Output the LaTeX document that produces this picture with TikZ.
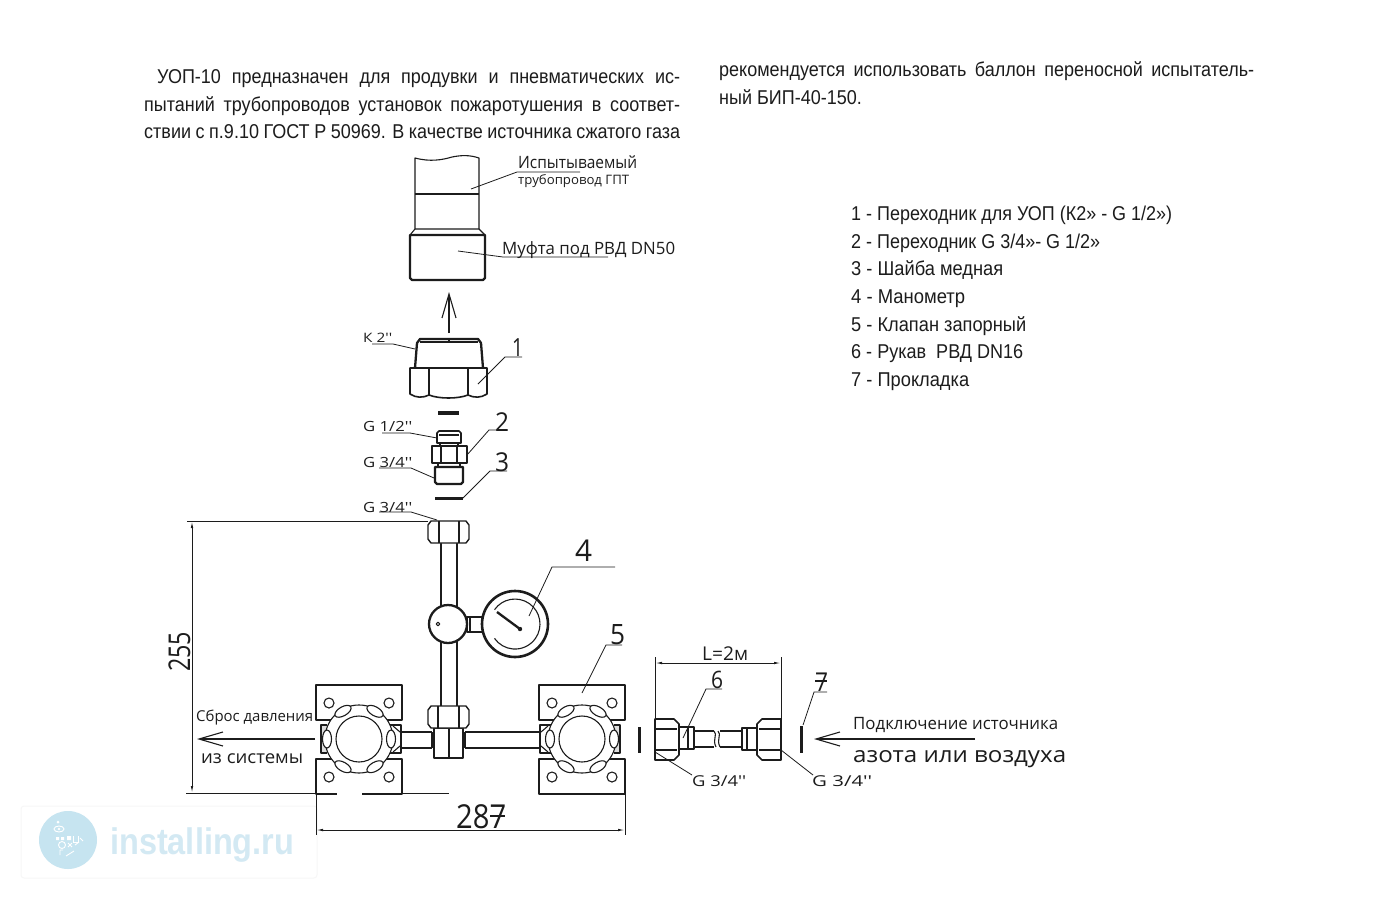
\documentclass[tikz,border=0pt]{standalone}
\usepackage{fontspec}
\usepackage{graphicx}
\usetikzlibrary{arrows.meta}
\setmainfont{Liberation Sans}
\newfontfamily\dfont{Open Sans}
\newfontfamily\bodyf[FakeStretch=0.90]{Liberation Sans}
\definecolor{ink}{HTML}{1C1C1C}
\definecolor{wmark}{HTML}{D3E9F3}
\definecolor{wcirc}{HTML}{C6E4F0}
\definecolor{wedge}{HTML}{F7F7F7}
\newcommand\dtxt[7][0]{\node[anchor=base west,inner sep=0pt,text=ink,rotate=#1] (#2) at (#3,#4) {\resizebox{#5pt}{\height}{\dfont\fontsize{#6}{#6}\selectfont #7}};}
\newcommand\btxt[4]{\node[anchor=base west,inner sep=0pt,text=ink] (#1) at (851,#2) {\resizebox{#3pt}{\height}{\fontsize{20}{20}\selectfont #4}};}
\newcommand\jtxt[5]{\node[anchor=base west,inner sep=0pt,text=ink] (#1) at (#2,#3) {\fontsize{20}{20}\bodyf\makebox[#4pt][s]{#5}};}
\newcommand\valve[2]{%
\begin{scope}[shift={(#1,739)},xscale=#2]
 \draw[thin line] (-43,-54) rectangle (43,-19);
 \draw[thin line] (-43,20) rectangle (43,55);
 \foreach \hx/\hy in {-30/-36,30/-36,-30/38,30/38} \draw[thin line] (\hx,\hy) circle (5);
 \draw[thick line,fill=ink!15] (32,-14) -- (38,-14) -- (38,14) -- (32,14);
 \draw[thin line] (-42,-14) rectangle (-30,14);
 \draw[thin line] (-41,-7) -- (-34,-13) (-41,7) -- (-34,13);
 \draw[thin line,fill=white] (0,0) circle (34);
 \draw[thin line] (0,0) circle (23);
 \foreach \a in {0,60,120,180,240,300}
   \draw[thin line,fill=white,rotate=\a] (32,0) ellipse (4.5 and 9);
\end{scope}}
\tikzset{
 thin line/.style={draw=ink,line width=1.1pt,line join=round},
 thick line/.style={draw=ink,line width=2.3pt,line join=round},
 lead/.style={draw=ink,line width=0.8pt},
 dimline/.style={draw=ink,line width=0.9pt},
 dimarrow/.style={draw=ink,line width=0.9pt,{Latex[length=7pt,width=2.5pt]}-{Latex[length=7pt,width=2.5pt]}},
 openarrow/.style={draw=ink,line width=1.1pt,-{Straight Barb[length=24pt,width=14pt,line width=1.1pt]}},
 bar/.style={draw=ink,line width=3pt},
}
\begin{document}
\begin{tikzpicture}[x=1pt,y=-1pt]
\useasboundingbox (0,0) rectangle (1400,900);
\fill[white] (0,0) rectangle (1400,900);
% watermark
\draw[wedge,fill=white,line width=1pt,rounded corners=3pt] (21,806) rectangle (317,878);
\fill[wcirc] (68,840) circle (29);
\begin{scope}[white,line width=0.9pt]
 \draw (59,829) ellipse (5 and 3);
 \fill (59,829) circle (1.3);
 \fill (58,822) circle (1.5);
 \draw (62,845) circle (3.5);
 \fill (56,837) rectangle (59,840) (61,837) rectangle (64,840) (67,836) rectangle (71,840);
 \draw (73,836) -- (73,842) arc[start angle=180,end angle=0,radius=0] -- (78,842) -- (78,836);
 \draw (68,843) -- (72,847) (72,843) -- (68,847) (75,845) -- (79,842) (80,838) -- (83,841);
 \draw (60,855) -- (60,850) -- (63,850) (74,851) -- (66,856);
\end{scope}
\node[anchor=base west,inner sep=0pt,text=wmark] (wm) at (110,854) {\resizebox{184pt}{\height}{\fontsize{37}{37}\selectfont\bfseries installing.ru}};
% body text
\jtxt{p1}{157}{83}{523}{УОП-10 предназначен для продувки и пневматических ис-}
\jtxt{p2}{144}{111}{536}{пытаний трубопроводов установок пожаротушения в соответ-}
\jtxt{p3}{144}{138}{536}{ствии с п.9.10 ГОСТ Р 50969. В качестве источника сжатого газа}
\jtxt{q1}{719}{76}{535}{рекомендуется использовать баллон переносной испытатель-}
\node[anchor=base west,inner sep=0pt,text=ink] (q2) at (719,104) {\fontsize{20}{20}\bodyf ный БИП-40-150.};
\btxt{l1}{220}{321}{1 - Переходник для УОП (К2» - G 1/2»)}
\btxt{l2}{248}{249}{2 - Переходник G 3/4»- G 1/2»}
\btxt{l3}{275}{152}{3 - Шайба медная}
\btxt{l4}{303}{114}{4 - Манометр}
\btxt{l5}{331}{175}{5 - Клапан запорный}
\btxt{l6}{358}{172}{6 - Рукав\ \ РВД DN16}
\btxt{l7}{386}{118}{7 - Прокладка}
% tested pipe
\draw[thin line] (415,229) -- (415,158) .. controls (430,162) and (442,160) .. (452,157) .. controls (462,155) and (470,155) .. (479,158) -- (479,229);
\draw[thick line] (415,194) -- (479,194);
\draw[thin line] (415,229) -- (479,229) (415,229) -- (410,235) (479,229) -- (485,235);
\draw[thick line] (410,235) -- (485,235) -- (485,278) -- (483,280) -- (412,280) -- (410,278) -- cycle;
\draw[lead] (471,189) -- (517,172) -- (580,172);
\draw[lead] (458,251) -- (503,257) -- (608,257);
\dtxt{pipe}{518}{168}{119}{17}{Испытываемый}
\dtxt{pipeb}{518}{184}{111}{13}{трубопровод ГПТ}
\dtxt{muff}{502}{254}{173}{17}{Муфта под РВД DN50}
% arrow up
\coordinate (upA) at (449,333);
\coordinate (upB) at (449,292);
\draw[openarrow] (upA) -- (upB);
% adapter 1
\draw[thick line] (415,368) -- (417,343) -- (420,339) -- (478,339) -- (481,343) -- (483,368);
\draw[thin line] (420,342) -- (478,342) (449,339) -- (449,342);
\draw[thick line,line width=1.6pt] (410,368) -- (487,368) -- (487,394) .. controls (481,398) and (474,398) .. (468,395) .. controls (458,399) and (439,399) .. (429,395) .. controls (423,398) and (416,398) .. (410,394) -- cycle;
\draw[thin line] (429,368) -- (429,395) (468,368) -- (468,395);
\draw[lead] (372,344) -- (393,344) -- (415,349);
\draw[lead] (478,384) -- (505,357) -- (522,357);
\dtxt{kk}{363}{342}{29}{13}{К 2''}
\dtxt{n1}{512}{356}{11}{25}{1}
% washer
\draw[bar,line width=4pt] (438,413) -- (459,413);
% adapter 2
\draw[thick line,line width=1.7pt] (437,443) -- (437,433) -- (439,431) -- (459,431) -- (461,433) -- (461,443) -- cycle;
\draw[thin line] (440,443) -- (440,446) (458,443) -- (458,446) (439,435) -- (459,435);
\draw[thin line,line width=1.4pt] (432,446) rectangle (467,463);
\draw[thin line] (441,446) -- (441,463) (457,446) -- (457,463);
\draw[thin line] (438,463) -- (438,467) (460,463) -- (460,467);
\draw[thick line] (435,467) -- (463,467) -- (463,482) -- (461,484) -- (437,484) -- (435,482) -- cycle;
\draw[lead] (382,433) -- (410,433) -- (437,438);
\draw[lead] (379,468) -- (411,468) -- (434,478);
\draw[lead] (467,455) -- (489,430) -- (507,430);
\draw[lead] (463,498) -- (490,471) -- (507,471);
\dtxt{g12}{363}{431}{49}{14}{G 1/2''}
\dtxt{g34a}{363}{467}{49}{14}{G 3/4''}
\dtxt{g34b}{363}{512}{49}{14}{G 3/4''}
\dtxt{n2}{495}{431}{14}{26}{2}
\dtxt{n3}{495}{471}{14}{26}{3}
\draw[bar] (435,498) -- (463,498);
% vertical pipe, top nut
\draw[thin line,line width=1.4pt] (441,543) -- (441,706) (457,543) -- (457,706);
\draw[thin line,line width=1.4pt,fill=white] (431,521) -- (466,521) -- (469,525) -- (469,539) -- (466,543) -- (431,543) -- (428,539) -- (428,525) -- cycle;
\draw[thin line] (439,521) -- (439,543) (459,521) -- (459,543);
\draw[lead] (379,512) -- (411,512) -- (437,520);
% ball and gauge
\draw[thin line,line width=1.4pt] (467,617) rectangle (483,632);
\draw[thin line] (470,617) -- (470,632);
\draw[thick line,fill=white] (448,624) circle (19);
\draw[thin line,fill=white] (438,624) circle (1.8);
\draw[thick line,line width=2.6pt,fill=white] (515,624) circle (33);
\draw[thin line] (494.5,609.7) arc[start angle=-145,end angle=145,radius=25];
\draw[thick line] (497,612) -- (520,629);
\fill[ink] (520,629) circle (2.2);
\draw[lead] (529,616) -- (552,567) -- (615,567);
\dtxt{n4}{575}{561}{17}{30}{4}
% horizontal pipe
\draw[thin line,line width=1.4pt] (400,732) -- (432,732) (400,748) -- (432,748);
\draw[thin line,line width=1.4pt] (465,732) -- (541,732) (465,748) -- (541,748);
% lower tee
\draw[thin line,line width=1.4pt,fill=white] (434,728) rectangle (463,758);
\draw[thin line,line width=1.5pt] (449,728) -- (449,758);
\draw[thick line] (432,732) -- (432,748) (465,732) -- (465,748);
\draw[thin line,line width=1.4pt,fill=white] (431,706) -- (466,706) -- (469,710) -- (469,724) -- (466,728) -- (431,728) -- (428,724) -- (428,710) -- cycle;
\draw[thin line] (438,706) -- (438,728) (459,706) -- (459,728);
% valves
\valve{582}{1}
\valve{359}{-1}
\draw[white,line width=3pt] (337,794) -- (362,794);
\draw[lead] (582,693) -- (606,645) -- (622,645);
\dtxt{n5}{610}{644}{15}{28}{5}
% release arrow
\coordinate (relA) at (315,739);
\coordinate (relB) at (197,739);
\draw[openarrow] (relA) -- (relB);
\dtxt{rel}{196}{721}{117}{15}{Сброс давления}
\dtxt{relb}{201}{763}{102}{18}{из системы}
% dimension 255
\draw[dimline] (187,521) -- (428,521);
\draw[dimline] (186,793) -- (337,793) (362,793) -- (449,793);
\coordinate (da) at (192,521);
\coordinate (db) at (192,793);
\draw[dimarrow] (da) -- (db);
\dtxt[90]{d255}{190}{672}{40}{30}{255}
% dimension 287
\draw[dimline] (316,793) -- (316,835) (625,794) -- (625,835);
\coordinate (dc) at (316,830);
\coordinate (dd) at (625,830);
\draw[dimarrow] (dc) -- (dd);
\dtxt{d287}{456}{828}{50}{33}{287}
\draw[draw=ink,line width=1.4pt] (490,816) -- (505,816);
% washers
\draw[bar] (639,727) -- (639,753);
\draw[bar] (801,726) -- (801,753);
% hose
\draw[thin line,line width=1.4pt] (694,731) -- (714,731) (694,747) -- (714,747) (720,731) -- (741,731) (720,747) -- (741,747);
\draw[thin line] (714,731) .. controls (718,735) and (712,739) .. (716,747) (718,731) .. controls (722,735) and (716,739) .. (720,747);
\draw[thin line,line width=1.4pt] (679,727) rectangle (694,749);
\draw[thin line] (688,727) -- (688,749);
\draw[thin line,line width=1.4pt] (742,728) rectangle (757,750);
\draw[thin line] (747,728) -- (747,750);
\draw[thin line,line width=1.6pt] (655,719) -- (674,719) -- (679,724) -- (679,755) -- (674,760) -- (655,760) -- cycle;
\draw[thin line] (655,729) -- (677,729) (655,750) -- (677,750);
\draw[thin line,line width=1.6pt] (781,719) -- (762,719) -- (757,724) -- (757,755) -- (762,760) -- (781,760) -- cycle;
\draw[thin line] (781,729) -- (759,729) (781,750) -- (759,750);
% L dimension
\draw[dimline] (655,657) -- (655,719) (781,657) -- (781,719);
\coordinate (de) at (655,663);
\coordinate (df) at (781,663);
\draw[dimarrow] (de) -- (df);
\dtxt{ldim}{702}{660}{46}{19}{L=2м}
\draw[lead] (683,738) -- (706,689) -- (722,689);
\draw[lead] (803,725) -- (814,692) -- (827,692);
\dtxt{n6}{711}{688}{12}{24}{6}
\dtxt{n7}{815}{691}{13}{26}{7}
\draw[draw=ink,line width=1.2pt] (815,681) -- (827,681);
\draw[lead] (655,752) -- (692,775);
\draw[lead] (781,750) -- (813,775);
\dtxt{gl}{692}{786}{54}{15}{G 3/4''}
\dtxt{gr}{812}{786}{60}{15}{G 3/4''}
% source arrow
\coordinate (srcA) at (975,739);
\coordinate (srcB) at (814,739);
\draw[openarrow] (srcA) -- (srcB);
\dtxt{src}{853}{729}{205}{17}{Подключение источника}
\dtxt{srcb}{853}{762}{213}{22}{азота или воздуха}
\end{tikzpicture}
\end{document}
